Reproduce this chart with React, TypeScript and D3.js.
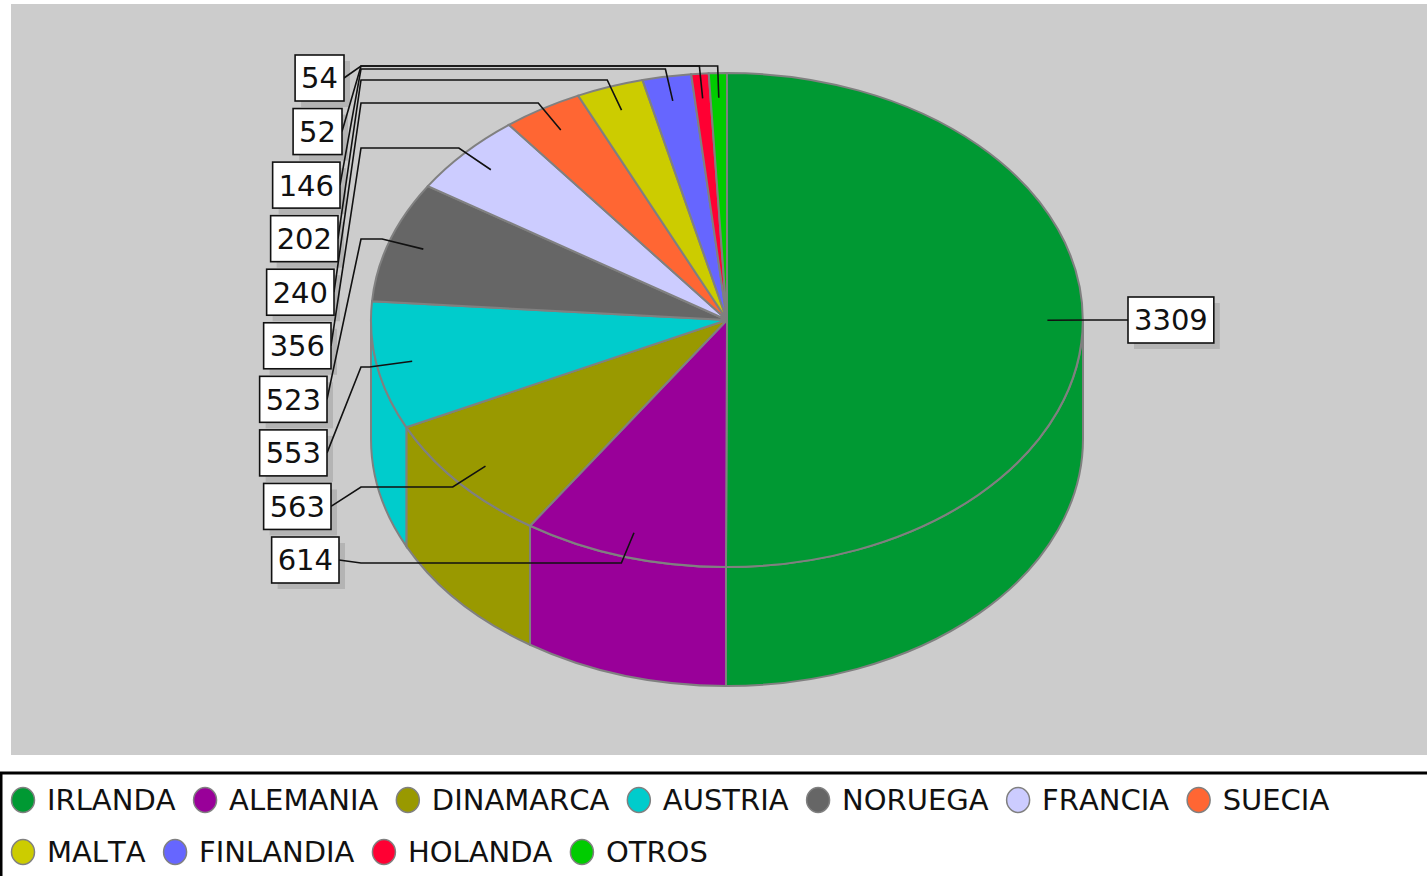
import {useEffect, useRef} from "react";
import * as d3 from "d3";

const categories = ["IRLANDA", "ALEMANIA", "DINAMARCA", "AUSTRIA", "NORUEGA", "FRANCIA", "SUECIA", "MALTA", "FINLANDIA", "HOLANDA", "OTROS"];
const values = [3309, 614, 563, 553, 523, 356, 240, 202, 146, 52, 54];
const colors = ["#009933", "#990099", "#999900", "#00cccc", "#666666", "#ccccff", "#ff6633", "#cccc00", "#6666ff", "#ff0033", "#00cc00"];

// right edge of the stacked labels on the left, top to bottom
const leftLabelEdges = [344, 342, 340, 338, 334, 331, 327, 327, 331, 339];

const WIDTH = 1427;
const HEIGHT = 876;
const FONT = "'DejaVu Sans', sans-serif";

const App = () => {
	const svgRef = useRef<SVGSVGElement>(null);

	useEffect(() => {
		const svg = d3.select(svgRef.current);
		svg.selectAll("*").remove();

		const cx = 727;
		const cy = 320;
		const rx = 356;
		const ry = 247;
		const depth = 119;

		// Plot background.
		svg.append("rect")
			.attr("x", 11)
			.attr("y", 4)
			.attr("width", WIDTH - 11)
			.attr("height", 751)
			.attr("fill", "#cccccc");

		const slices = d3.pie<number>().sort(null)(values);
		const rim = (a: number, kx = 1, ky = 1): [number, number] => [
			cx + rx * kx * Math.sin(a),
			cy - ry * ky * Math.cos(a),
		];

		// Side wall, only the part that faces the viewer.
		const side = svg.append("g");
		slices.forEach((s) => {
			const a0 = Math.max(s.startAngle, Math.PI / 2);
			const a1 = Math.min(s.endAngle, (Math.PI * 3) / 2);
			if (a1 <= a0) return;
			const [x0, y0] = rim(a0);
			const [x1, y1] = rim(a1);
			side.append("path")
				.attr("d", `M${x0},${y0}A${rx},${ry} 0 0 1 ${x1},${y1}L${x1},${y1 + depth}A${rx},${ry} 0 0 0 ${x0},${y0 + depth}Z`)
				.attr("fill", colors[s.index])
				.attr("stroke", "#808080")
				.attr("stroke-width", 2);
		});

		// Top face.
		const arc = d3.arc<d3.PieArcDatum<number>>().innerRadius(0).outerRadius(rx);
		svg.append("g")
			.attr("transform", `translate(${cx},${cy}) scale(1,${ry / rx})`)
			.selectAll("path")
			.data(slices)
			.join("path")
			.attr("d", arc)
			.attr("fill", (d) => colors[d.index])
			.attr("stroke", "#808080")
			.attr("stroke-width", 2)
			.attr("vector-effect", "non-scaling-stroke");

		// Labels with leader lines.
		const mid = (s: d3.PieArcDatum<number>) => (s.startAngle + s.endAngle) / 2;
		const leftSlices = slices.filter((s) => mid(s) > Math.PI).reverse();
		const leftY = d3.scalePoint<number>().domain(leftSlices.map((s) => s.index)).range([78, 560]);
		const shadows = svg.append("g");
		const lines = svg.append("g");
		const boxes = svg.append("g");

		slices.forEach((s) => {
			const a = mid(s);
			const isLeft = a > Math.PI;
			const [ax, ay] = rim(a, 0.9, 0.9);
			const [ex, eyRaw] = rim(a, 1.022, 1.03);
			const ey = Math.round(eyRaw);
			const knee = cx + (isLeft ? -366 : 366);

			const label = boxes.append("text")
				.text(values[s.index])
				.attr("font-family", FONT)
				.attr("font-size", 29)
				.attr("fill", "#111111")
				.attr("dy", "0.36em");
			const w = (label.node() as SVGTextElement).getComputedTextLength() + 12;
			const h = 46;
			const edge = isLeft ? leftLabelEdges[leftSlices.indexOf(s)] : 1128;
			const y = isLeft ? (leftY(s.index) as number) : ey;
			const left = isLeft ? edge - w : edge;

			lines.append("path")
				.attr("d", d3.line()([[ax, ay], [ex, ey], [knee, ey], [edge, y]]))
				.attr("fill", "none")
				.attr("stroke", "#111111")
				.attr("stroke-width", 1.6);

			shadows.append("rect")
				.attr("x", left + 6)
				.attr("y", y - h / 2 + 6)
				.attr("width", w)
				.attr("height", h)
				.attr("fill", "#b4b4b4");
			boxes.insert("rect", "text")
				.attr("x", left)
				.attr("y", y - h / 2)
				.attr("width", w)
				.attr("height", h)
				.attr("fill", "#ffffff")
				.attr("stroke", "#111111")
				.attr("stroke-width", 1.6);
			label.attr("x", left + 6).attr("y", y);
		});

		// Legend frame, runs off the right and bottom of the page.
		svg.append("rect")
			.attr("x", 1)
			.attr("y", 773)
			.attr("width", WIDTH + 10)
			.attr("height", 120)
			.attr("fill", "#ffffff")
			.attr("stroke", "#000000")
			.attr("stroke-width", 3);

		// Legend items flow into rows by measured text width.
		const legend = svg.append("g");
		let x = 11;
		let y = 800;
		categories.forEach((name, i) => {
			const item = legend.append("g");
			const text = item.append("text")
				.text(name)
				.attr("font-family", FONT)
				.attr("font-size", 29)
				.attr("fill", "#111111")
				.attr("dy", "0.36em")
				.style("font-kerning", "none");
			const w = (text.node() as SVGTextElement).getComputedTextLength();
			if (x + 36 + w > WIDTH - 60) {
				x = 11;
				y += 52;
			}
			item.append("ellipse")
				.attr("cx", x + 12)
				.attr("cy", y)
				.attr("rx", 11.5)
				.attr("ry", 12.5)
				.attr("fill", colors[i])
				.attr("stroke", "#808080")
				.attr("stroke-width", 1.5);
			text.attr("x", x + 36).attr("y", y);
			x += 36 + w + 17.5;
		});
	}, []);

	return (
		<svg
			ref={svgRef}
			width={WIDTH}
			height={HEIGHT}
			style={{position: "absolute", left: 0, top: 0, display: "block", background: "#ffffff"}}
		></svg>
	);
};

export default App;
